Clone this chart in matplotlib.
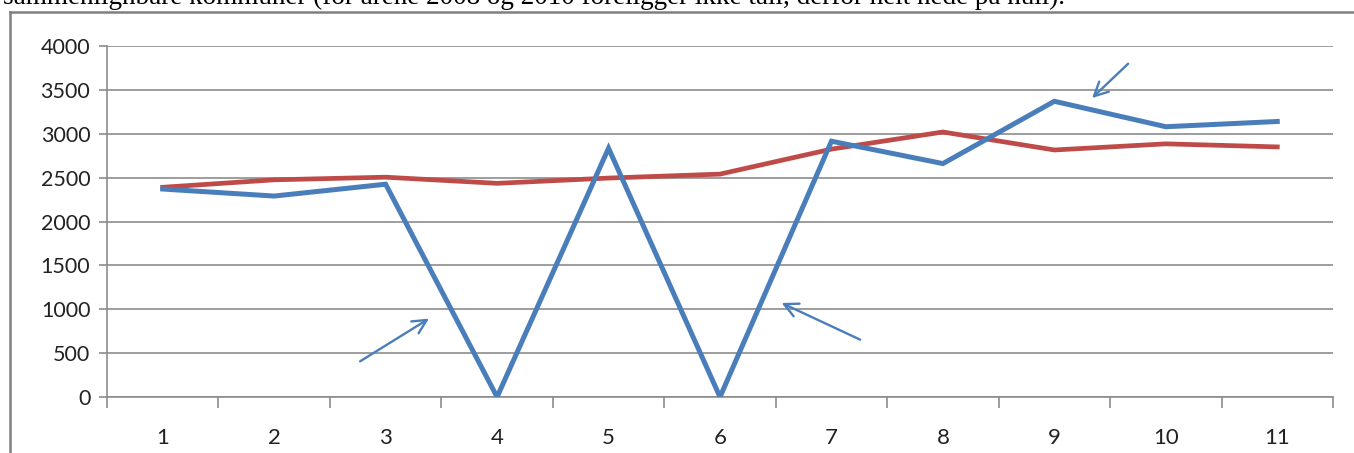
import matplotlib
matplotlib.use("Agg")
import matplotlib.pyplot as plt
from matplotlib.lines import Line2D

# categories 1..11
cats = [1, 2, 3, 4, 5, 6, 7, 8, 9, 10, 11]
blue_vals = [2370, 2290, 2425, 0, 2835, 0, 2915, 2660, 3370, 3080, 3140]
red_vals = [2390, 2475, 2505, 2435, 2495, 2540, 2825, 3020, 2815, 2885, 2850]
yticks = [0, 500, 1000, 1500, 2000, 2500, 3000, 3500, 4000]
caption = ("sammenlignbare kommuner (for årene 2008 og 2010 foreligger ikke tall, "
           "derfor helt nede på null).")

blue = "#4A7EBB"
red = "#BE4B48"
grid_c = "#8C8C8C"

fig = plt.figure(figsize=(13.54, 4.53), dpi=100)
ax = fig.add_axes([107/1354, 1 - 397/453, (1333 - 107)/1354, (397 - 46)/453])

ax.plot(cats, blue_vals, color=blue, lw=3.6, solid_joinstyle="miter", zorder=3)
ax.plot(cats, red_vals, color=red, lw=3.4, solid_joinstyle="miter", zorder=2)

ax.set_xlim(0.5, 11.5)
ax.set_ylim(0, 4000)
ax.set_yticks(yticks)
ax.yaxis.grid(True, color=grid_c, lw=1.2)
ax.set_axisbelow(True)

ax.set_xticks(cats)
ax.set_xticklabels([str(c) for c in cats])
ax.set_xticks([c + 0.5 for c in [0] + cats], minor=True)
ax.tick_params(axis="x", which="major", length=0, pad=22, labelsize=16)
ax.tick_params(axis="x", which="minor", length=8, color=grid_c, width=1.2)
ax.tick_params(axis="y", length=6, color=grid_c, width=1.2, labelsize=15.5, pad=6)
for lab in ax.get_xticklabels() + ax.get_yticklabels():
    lab.set_family("Lato")
    lab.set_color("#222222")

for s in ["top", "right"]:
    ax.spines[s].set_visible(False)
for s in ["left", "bottom"]:
    ax.spines[s].set_color(grid_c)
    ax.spines[s].set_linewidth(1.2)

# hand-drawn arrows pointing at the gaps / peak
arrow_kw = dict(arrowstyle="->,head_length=1.0,head_width=0.5", color=blue, lw=1.7)
ax.annotate("", xy=(3.41, 910), xytext=(2.75, 390), arrowprops=arrow_kw)
ax.annotate("", xy=(6.53, 1085), xytext=(7.28, 640), arrowprops=arrow_kw)
ax.annotate("", xy=(9.32, 3385), xytext=(9.68, 3820), arrowprops=arrow_kw)

# frame of the pasted chart and the cut-off caption above it
fig.add_artist(Line2D([10/1354, 10/1354], [0, 1 - 12/453], color="#7F7F7F", lw=1.8))
fig.add_artist(Line2D([10/1354, 1], [1 - 12/453, 1 - 12/453], color="#7F7F7F", lw=1.8))
fig.text(3/1354, 1 - 4/453, caption, family="Liberation Serif", fontsize=19.5,
         va="baseline", ha="left", color="black")

fig.savefig("out.png", dpi=100)
